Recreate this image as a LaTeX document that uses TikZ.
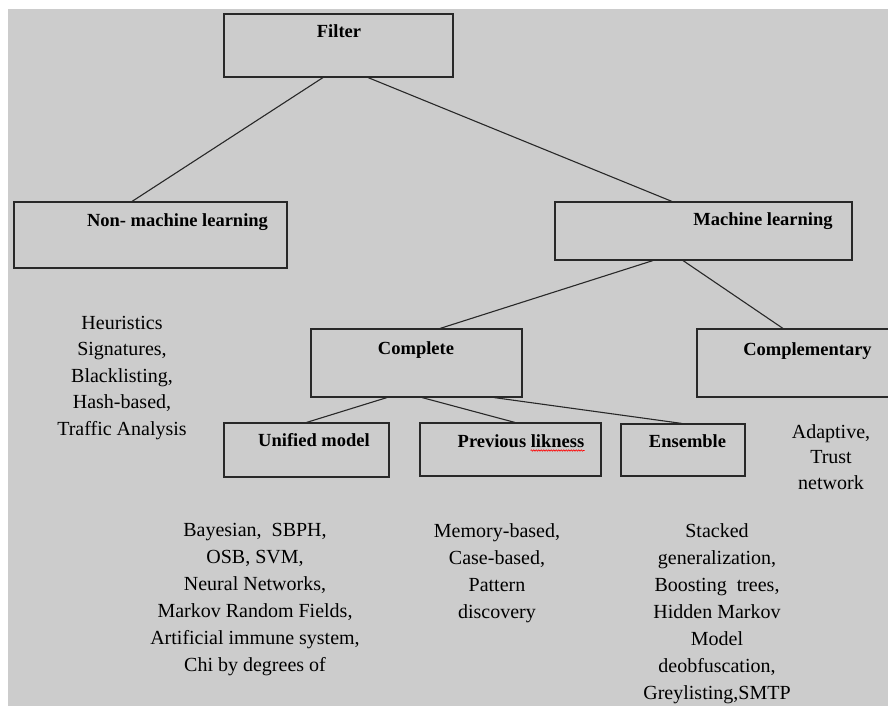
\documentclass[tikz,border=0pt]{standalone}
\usepackage{fontspec}
\setmainfont{Liberation Serif}
\usetikzlibrary{positioning,decorations.pathmorphing}
\definecolor{panelgray}{RGB}{204,204,204}
\definecolor{edgegray}{RGB}{40,40,40}

\begin{document}
\begin{tikzpicture}[x=1pt, y=-1pt,
    box/.style={draw=edgegray, line width=1.1pt, rectangle, inner sep=0pt},
    lbl/.style={font=\bfseries\fontsize{18.5}{22}\selectfont, inner sep=0pt, anchor=base},
    note/.style={font=\fontsize{20}{27}\selectfont, align=center, inner sep=0pt, anchor=north},
    link/.style={draw=edgegray, line width=1.1pt}]
    \useasboundingbox (0,0) rectangle (888,706);
    \fill[panelgray] (8,9) rectangle (900,720);
    % Boxes (tree of filter types)
    \node[box, minimum width=229pt, minimum height=63pt] (filter) at (338.5,45.5) {};
    \node[box, minimum width=273pt, minimum height=66pt] (nonml) at (150.5,235) {};
    \node[box, minimum width=297pt, minimum height=58pt] (ml) at (703.5,231) {};
    \node[box, minimum width=211pt, minimum height=68pt] (complete) at (416.5,363) {};
    \node[box, minimum width=203pt, minimum height=68pt] (compl) at (798.5,363) {};
    \node[box, minimum width=165pt, minimum height=54pt] (unified) at (306.5,450) {};
    \node[box, minimum width=181pt, minimum height=53pt] (prev) at (510.5,449.5) {};
    \node[box, minimum width=124pt, minimum height=52pt] (ensemble) at (683,450) {};
    % Box titles
    \node[lbl] (filtertxt) at (339,38) {Filter};
    \node[lbl] (nonmltxt) at (177.5,226.5) {Non- machine learning};
    \node[lbl] (mltxt) at (763,225.5) {Machine learning};
    \node[lbl] (completetxt) at (416,354.5) {Complete};
    \node[lbl] (compltxt) at (807.5,355) {Complementary};
    \node[lbl] (unifiedtxt) at (314,446.5) {Unified model};
    \node[lbl] (prevtxt) at (521,447.5) {Previous likness};
    \node[lbl] (ensembletxt) at (687.5,447.5) {Ensemble};
    % Lists of methods
    \node[note, font=\fontsize{20}{26.5}\selectfont] (nonmllist) at (122,316)
        {Heuristics\\Signatures,\\Blacklisting,\\Hash-based,\\Traffic Analysis};
    \node[note] (unifiedlist) at (255,523)
        {Bayesian,\ \ SBPH,\\OSB, SVM,\\Neural Networks,\\Markov Random Fields,\\Artificial immune system,\\Chi by degrees of};
    \node[note] (prevlist) at (497,523)
        {Memory-based,\\Case-based,\\Pattern\\discovery};
    \node[note] (ensemblelist) at (717,523)
        {Stacked\\generalization,\\Boosting\ \ trees,\\Hidden Markov\\Model\\deobfuscation,\\Greylisting,SMTP};
    \node[note, font=\fontsize{20}{25.5}\selectfont] (compllist) at (831,424)
        {Adaptive,\\Trust\\network};
    % Lines between the boxes
    \draw[link] ([xshift=-15.5pt]filter.south) -- ([xshift=-18.5pt]nonml.north);
    \draw[link] ([xshift=29.5pt]filter.south) -- ([xshift=-31.5pt]ml.north);
    \draw[link] ([xshift=-50.5pt]ml.south) -- ([xshift=23.5pt]complete.north);
    \draw[link] ([xshift=-20.5pt]ml.south) -- ([xshift=-15.5pt]compl.north);
    \draw[link] ([xshift=-29.5pt]complete.south) -- (unified.north);
    \draw[link] ([xshift=5.5pt]complete.south) -- ([xshift=4.5pt]prev.north);
    \draw[link] ([xshift=77.5pt]complete.south) -- ([xshift=-1pt]ensemble.north);
    % spell-check mark under the misspelt word
    \draw[red, line width=0.6pt, decorate, decoration={snake, amplitude=0.7pt, segment length=2.5pt}]
        ([xshift=-54pt, yshift=-3pt]prevtxt.base east) -- ([yshift=-3pt]prevtxt.base east);
\end{tikzpicture}
\end{document}
